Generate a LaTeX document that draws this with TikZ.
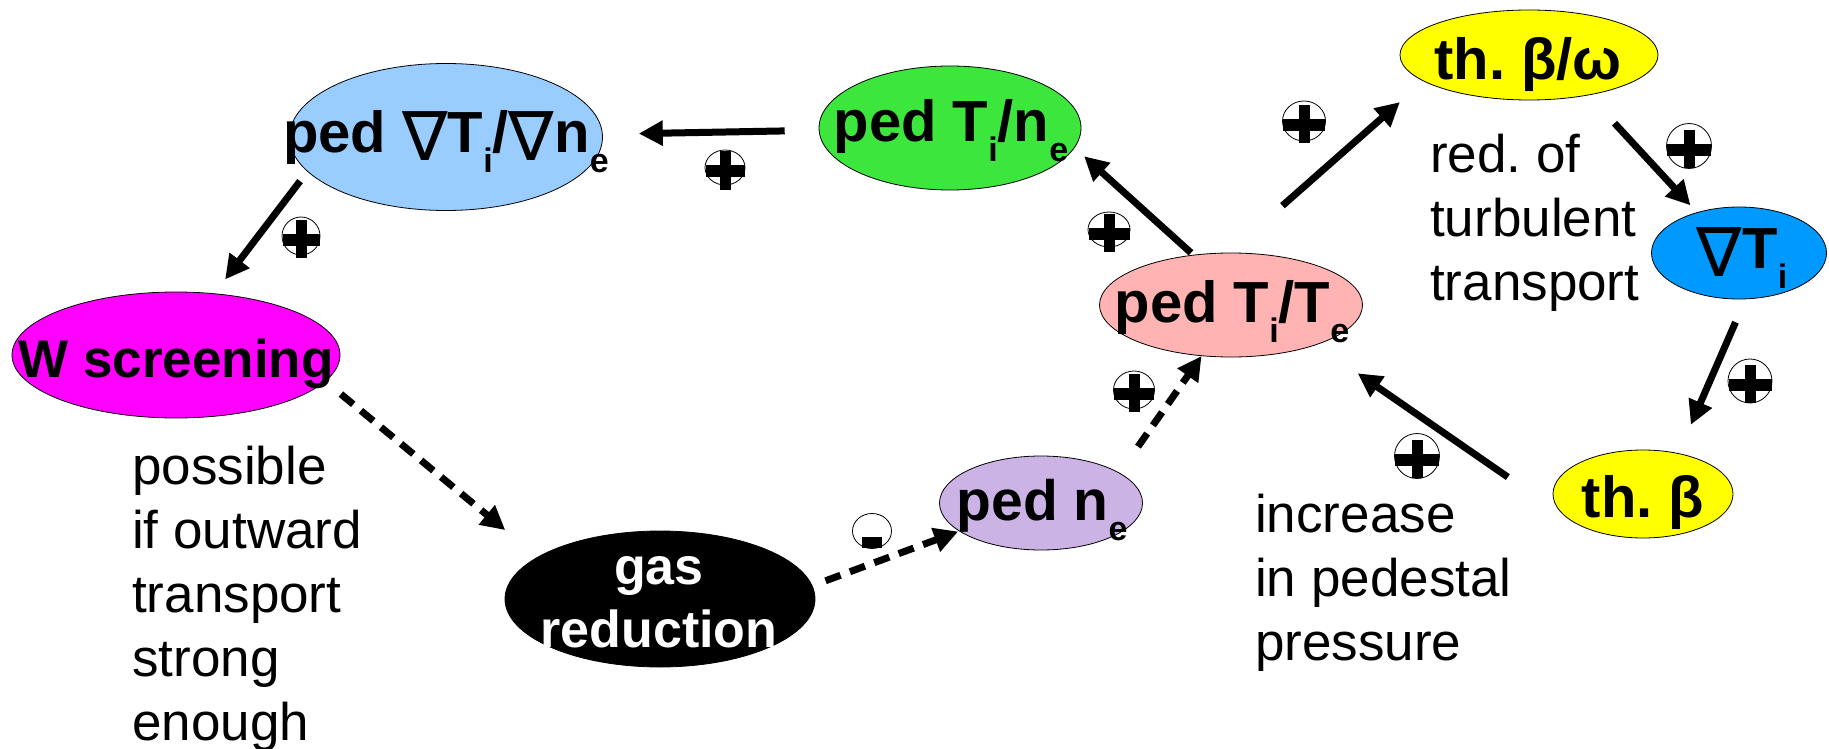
\documentclass[tikz,border=0pt]{standalone}
\usepackage{fontspec}
\setmainfont{Liberation Sans}
\newfontfamily\nablafont{DejaVu Sans}
\usetikzlibrary{arrows.meta,shapes.geometric}
\frenchspacing

\definecolor{gradblue}{RGB}{153,204,255}
\definecolor{wmagenta}{RGB}{255,0,255}
\definecolor{nelilac}{RGB}{204,179,230}
\definecolor{tngreen}{RGB}{60,230,60}
\definecolor{ttpink}{RGB}{255,179,179}
\definecolor{betayellow}{RGB}{255,255,0}
\definecolor{tiblue}{RGB}{0,153,255}

% lowered small index (T_i, n_e)
\newcommand\lowsub[1]{\raisebox{-20pt}{\fontsize{34}{34}\selectfont #1}}
% thin nabla
\newcommand\gradsym{\raisebox{-8pt}{\nablafont\mdseries\fontsize{68}{68}\selectfont ∇}}
% stacked lines, baseline on the first line
\newcommand\stack[2][l]{\begin{tabular}[t]{@{}#1@{}}#2\end{tabular}}

\tikzset{
  pics/plusmark/.style n args={2}{code={
    \node[draw, ellipse, line width=0.8pt, minimum width=#1pt, minimum height=#2pt, inner sep=0pt] (-c) {};
    \fill (-0.5*#1+0.5,-2) rectangle (0.5*#1-0.5,10);
    \fill (-5.5,-16) rectangle (5.5,22);
  }},
  pics/minusmark/.style={code={
    \node[draw, ellipse, line width=0.8pt, minimum width=39pt, minimum height=35pt, inner sep=0pt] (-c) {};
    \fill (-10,6) rectangle (10,17);
  }},
}

\begin{document}
\begin{tikzpicture}[x=1pt,y=-1pt,
  blob/.style={ellipse, draw, line width=0.8pt, inner sep=0pt},
  lab/.style={anchor=base, inner sep=0pt, font=\bfseries\fontsize{58}{64}\selectfont},
  note/.style={anchor=base west, inner sep=0pt, font=\fontsize{53}{64}\selectfont},
  arr/.style={line width=7pt, -{Triangle[length=24pt,width=24pt]}},
  dsh/.style={arr, dash pattern=on 16pt off 10pt}]

\fill[white] (0,0) rectangle (1829,749);
\useasboundingbox (0,0) rectangle (1829,749);

% ellipses
\node[blob, fill=gradblue,   minimum width=313pt, minimum height=147pt] (pedgrad) at (446,137) {};
\node[blob, fill=wmagenta,   minimum width=328pt, minimum height=126pt] (wscr)    at (176,355) {};
\node[blob, fill=black,      minimum width=310pt, minimum height=136pt] (gas)     at (660,599) {};
\node[blob, fill=nelilac,    minimum width=203pt, minimum height=94pt]  (pedne)   at (1041,503) {};
\node[blob, fill=tngreen,    minimum width=262pt, minimum height=124pt] (pedTine) at (950,128) {};
\node[blob, fill=ttpink,     minimum width=263pt, minimum height=104pt] (pedTiTe) at (1231,305) {};
\node[blob, fill=betayellow, minimum width=258pt, minimum height=90pt]  (thbw)    at (1529,55) {};
\node[blob, fill=tiblue,     minimum width=175pt, minimum height=92pt]  (gradTi)  at (1739,253) {};
\node[blob, fill=betayellow, minimum width=180pt, minimum height=88pt]  (thb)     at (1643,494) {};

% ellipse texts
\node[lab] (pedgrad-t) at (446,153) {ped \gradsym T\lowsub{i}/\gradsym n\lowsub{e}};
\node[lab, font=\bfseries\fontsize{53}{64}\selectfont] (wscr-t) at (176,377) {W screening};
\node[lab, font=\bfseries\fontsize{52}{63}\selectfont, text=white] (gas-t) at (659,584) {\stack[c]{gas\\reduction}};
\node[lab, font=\bfseries\fontsize{57}{64}\selectfont] (pedne-t) at (1042,520) {ped n\lowsub{e}};
\node[lab] (pedTine-t) at (951,142) {ped T\lowsub{i}/n\lowsub{e}};
\node[lab] (pedTiTe-t) at (1232,322) {ped T\lowsub{i}/T\lowsub{e}};
\node[lab] (thbw-t) at (1528,80) {th. β/ω};
\node[lab] (gradTi-t) at (1742,268) {\gradsym T\lowsub{i}};
\node[lab] (thb-t) at (1643,517) {th. β};

% free text
\node[note] (scrnote) at (132,484) {\stack{possible\\if outward\\transport\\strong\\enough}};
\node[note] (turbnote) at (1430,172) {\stack{red. of\\turbulent\\transport}};
\node[note] (presnote) at (1255,532) {\stack{increase\\in pedestal\\pressure}};

% solid links
\draw[arr, shorten <=34pt, shorten >=36pt] (pedTine.181.75) -- (pedgrad.1.8);
\draw[arr, shorten <=12pt, shorten >=17.5pt] (pedgrad.194.6) -- (wscr.58);
\draw[arr, shorten <=3pt, shorten >=12.7pt] (pedTiTe.127.7) -- (pedTine.-9.4);
\draw[arr, shorten <=71pt, shorten >=31.5pt] (pedTiTe.92.5) -- (thbw.194);
\draw[arr, shorten <=38pt, shorten >=9.4pt] (thbw.-34.8) -- (gradTi.136.7);
\draw[arr, shorten <=25pt, shorten >=31pt] (gradTi.-82.5) -- (thb.49.6);
\draw[arr, shorten <=71pt, shorten >=50pt] (thb.197) -- (pedTiTe.-25);

% dashed links
\draw[dsh, shorten <=20pt, shorten >=42pt] (wscr.-10.3) -- (gas.161.6);
\draw[dsh, shorten <=14pt, shorten >=1pt] (gas.5.4) -- (pedne.199.7);
\draw[dsh, shorten <=32pt] (pedne.21.5) -- (pedTiTe.240.2);

% signs
\pic (m1) at (725,167.5) {plusmark={40}{35}};
\pic (m2) at (301,236) {plusmark={38}{38}};
\pic (m3) at (1109,229.5) {plusmark={42}{35}};
\pic (m4) at (1304,121) {plusmark={43}{40}};
\pic (m5) at (1689,146) {plusmark={45}{45}};
\pic (m6) at (1750,381) {plusmark={44}{44}};
\pic (m7) at (1417,456) {plusmark={45}{45}};
\pic (m8) at (1134,390) {plusmark={41}{38}};
\pic (m9) at (872,531) {minusmark};

\end{tikzpicture}
\end{document}
